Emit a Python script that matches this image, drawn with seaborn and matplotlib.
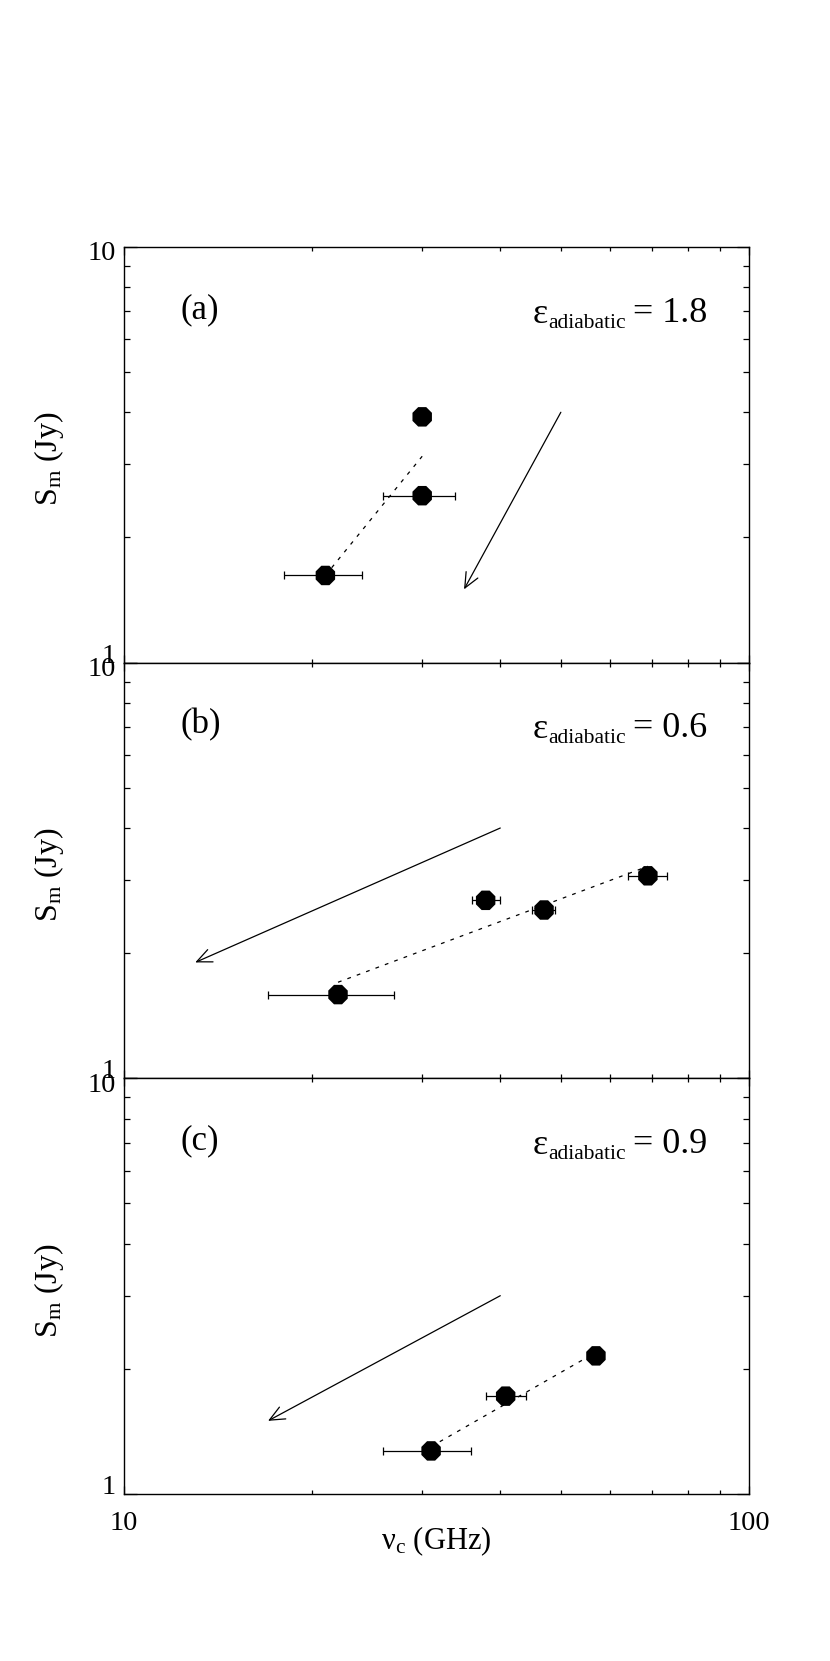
import numpy as np
import pandas as pd
import seaborn as sns
import matplotlib.pyplot as plt
from matplotlib.ticker import LogLocator, NullFormatter
from matplotlib.transforms import ScaledTranslation

# panel labels and adiabatic index
panel_tags = ["(a)", "(b)", "(c)"]
eps_text = ["1.8", "0.6", "0.9"]

# (a)
nu_a = [21.0, 30.0, 30.0]
sm_a = [1.62, 2.52, 3.90]
nu_lo_a = [18.0, 26.0, np.nan]
nu_hi_a = [24.0, 33.9, np.nan]
arrow_from_a = [50.0, 4.0]
arrow_to_a = [35.0, 1.5]

# (b)
nu_b = [22.0, 37.9, 47.0, 68.9]
sm_b = [1.59, 2.68, 2.54, 3.07]
nu_lo_b = [17.0, 36.0, 44.9, 64.0]
nu_hi_b = [27.0, 40.0, 48.9, 73.8]
arrow_from_b = [40.0, 4.0]
arrow_to_b = [13.0, 1.9]

# (c)
nu_c = [31.0, 40.8, 56.9]
sm_c = [1.27, 1.72, 2.15]
nu_lo_c = [26.0, 38.0, np.nan]
nu_hi_c = [35.9, 43.9, np.nan]
arrow_from_c = [40.0, 3.0]
arrow_to_c = [17.0, 1.5]

panels = [
    (nu_a, sm_a, nu_lo_a, nu_hi_a, arrow_from_a, arrow_to_a),
    (nu_b, sm_b, nu_lo_b, nu_hi_b, arrow_from_b, arrow_to_b),
    (nu_c, sm_c, nu_lo_c, nu_hi_c, arrow_from_c, arrow_to_c),
]

sns.set_theme(style="ticks", rc={
    "axes.edgecolor": "black", "axes.linewidth": 1.0,
    "xtick.color": "black", "ytick.color": "black",
    "text.color": "black", "axes.labelcolor": "black",
})
plt.rcParams["font.family"] = ["Liberation Serif", "DejaVu Serif"]
plt.rcParams["mathtext.fontset"] = "custom"
plt.rcParams["mathtext.rm"] = "Liberation Serif"
plt.rcParams["mathtext.it"] = "Liberation Serif:italic"

fig = plt.figure(figsize=(8.3, 16.61), dpi=100)

left, width = 0.1494, 0.753
bottom0, height = 0.1005, 0.2503

for i, (nu, sm, lo, hi, a_from, a_to) in enumerate(panels):
    ax = fig.add_axes([left, bottom0 + (2 - i) * height, width, height])
    df = pd.DataFrame({"nu": nu, "sm": sm, "lo": lo, "hi": hi})

    # dotted least-squares line in log-log space
    k, b = np.polyfit(np.log10(df.nu), np.log10(df.sm), 1)
    fit = pd.DataFrame({"nu": [df.nu.min(), df.nu.max()]})
    fit["sm"] = 10 ** (k * np.log10(fit.nu) + b)
    ax.plot(fit.nu, fit.sm, color="black", lw=0.9, ls=(0, (3, 5)), zorder=1)

    err = df.dropna()
    ax.errorbar(err.nu, err.sm, xerr=[err.nu - err.lo, err.hi - err.nu],
                fmt="none", ecolor="black", elinewidth=0.9, capsize=2.6,
                capthick=0.9, zorder=2)

    sns.scatterplot(data=df, x="nu", y="sm", ax=ax, marker="8", s=230,
                    color="black", edgecolor="none", zorder=3)

    ax.annotate("", xy=a_to, xytext=a_from,
                arrowprops=dict(arrowstyle="->,head_length=0.9,head_width=0.4",
                                color="black", lw=0.9, shrinkA=0, shrinkB=0))

    ax.set_xscale("log")
    ax.set_yscale("log")
    ax.set_xlim(10, 100)
    ax.set_ylim(1, 10)

    ax.xaxis.set_minor_locator(LogLocator(subs=np.arange(2, 10)))
    ax.yaxis.set_minor_locator(LogLocator(subs=np.arange(2, 10)))
    ax.xaxis.set_minor_formatter(NullFormatter())
    ax.yaxis.set_minor_formatter(NullFormatter())
    ax.tick_params(which="both", direction="in", top=True, right=True,
                   width=0.9, labelsize=20.5)
    ax.xaxis.set_tick_params(which="minor", length=3)
    ax.xaxis.set_tick_params(which="major", length=6, pad=12)
    ax.yaxis.set_tick_params(which="minor", length=4.5)
    ax.yaxis.set_tick_params(which="major", length=9, pad=6)

    ax.set_yticks([1, 10], ["1", "10"])
    ylabels = ax.get_yticklabels()
    ylabels[0].set_va("baseline")
    ylabels[1].set_va("center")
    ylabels[1].set_transform(ylabels[1].get_transform()
                             + ScaledTranslation(0, -5 / 72, fig.dpi_scale_trans))

    if i == 2:
        ax.set_xticks([10, 100], ["10", "100"])
        ax.set_xlabel(r"ν$_\mathrm{c}$ (GHz)", fontsize=22)
        ax.xaxis.set_label_coords(0.5, -0.072)
    else:
        ax.set_xticks([10, 100])
        ax.tick_params(axis="x", labelbottom=False)
        ax.set_xlabel("")

    ax.set_ylabel(r"S$_\mathrm{m}$ (Jy)", fontsize=23)
    ax.yaxis.set_label_coords(-0.093, 0.49)

    ax.text(0.09, 0.829, panel_tags[i], transform=ax.transAxes,
            fontsize=25, ha="left", va="baseline")

    # epsilon label built from three pieces so the subscript can be smaller
    t_val = ax.text(0.934, 0.82, "= " + eps_text[i], transform=ax.transAxes,
                    fontsize=26, ha="right", va="baseline")
    t_sub = ax.annotate("adiabatic", xy=(0, 0), xycoords=t_val,
                        xytext=(-5.5, 1.5), textcoords="offset points",
                        fontsize=15.5, ha="right", va="baseline")
    ax.annotate("ε", xy=(0, 0), xycoords=t_sub,
                xytext=(0, 7.2), textcoords="offset points",
                fontsize=26, ha="right", va="baseline")

fig.savefig("out.png", dpi=100)
